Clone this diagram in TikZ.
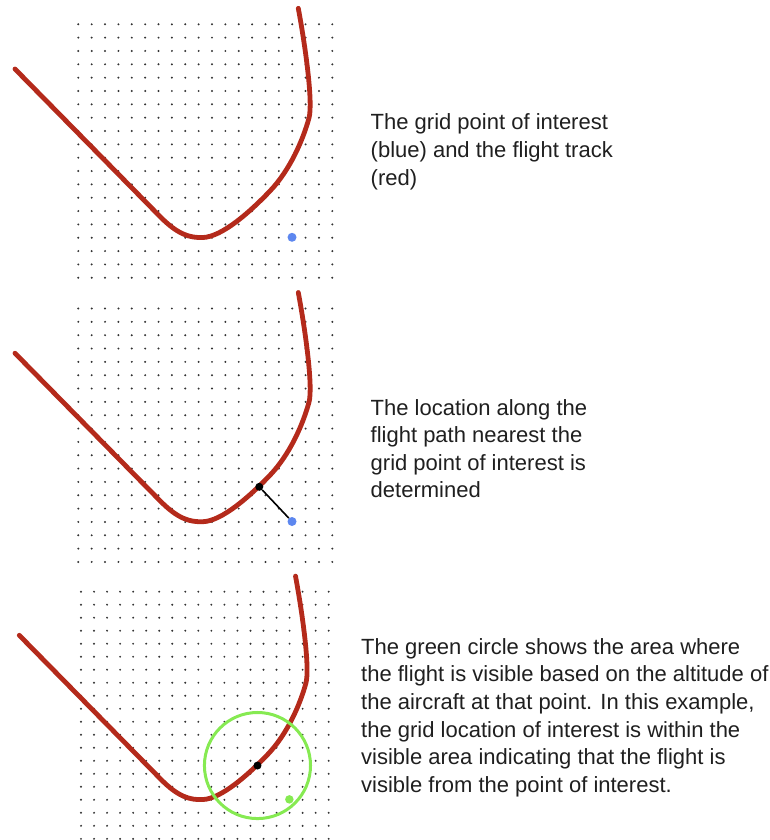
\documentclass[tikz,border=0pt]{standalone}
\usepackage{fontspec}
\setmainfont{Liberation Sans}
\usetikzlibrary{positioning}
\definecolor{TR}{HTML}{B42A1B}
\definecolor{GP}{HTML}{5D87EF}
\definecolor{VG}{HTML}{86EA52}
\definecolor{DT}{HTML}{333333}

%% dotted background grid, 20 x 20
\newcommand{\dotgrid}{%
  \foreach \ii in {0,...,19}{
    \foreach \jj in {0,...,19}{
      \fill[DT] (78.3+\ii*13.37, 24.3+\jj*13.34) circle (1.1);
    }
  }}
%% the flight track
\newcommand{\flighttrack}{%
  \draw[TR, line width=4.8pt, line cap=round, line join=round]
    (15,69) -- (160,216.5)
    .. controls (178,234.8) and (190,238) .. (203,237.5)
    .. controls (222,236.8) and (250,212) .. (270,191)
    .. controls (290,170) and (303,140) .. (309,118)
    .. controls (313,103) and (306,50) .. (298.3,8.3);}

\begin{document}
\begin{tikzpicture}[x=1pt, y=-1pt,
    txt/.style={font=\fontsize{22}{27.6}\selectfont, align=left,
                inner sep=0pt, text=black!88, anchor=base west},
    gpdot/.style={circle, fill=GP, inner sep=0pt, minimum size=9pt},
    neardot/.style={circle, fill=black, inner sep=0pt, minimum size=8pt},
    visdot/.style={circle, fill=VG, inner sep=0pt, minimum size=8.5pt}]
  \useasboundingbox (0,0) rectangle (770,840);

  %% panel 1: grid point and track
  \begin{scope}
    \dotgrid
    \flighttrack
    \node[gpdot] (gp1) at (292,237.3) {};
  \end{scope}
  %% base anchor sits on the last line
  \node[txt] (cap1) at (370.5,185.2)
    {The grid point of interest\\(blue) and the flight track\\(red)};

  %% panel 2: nearest location on the track
  \begin{scope}[shift={(0,284.2)}]
    \dotgrid
    \flighttrack
    \node[gpdot] (gp2) at (292,237.3) {};
    \node[neardot] (near2) at (259.3,202.6) {};
    \draw[black, line width=1.6pt] (near2) -- (gp2);
  \end{scope}
  \node[txt] (cap2) at (370.5,497.8)
    {The location along the\\flight path nearest the\\grid point of interest is\\determined};

  %% panel 3: visible area
  \begin{scope}[shift={(4.66,568)}, scale=0.975]
    \dotgrid
    \flighttrack
    \node[visdot] (gp3) at (292,237.3) {};
    \node[neardot] (near3) at (259.3,202.6) {};
    \draw[VG, line width=3pt] (near3.center) circle (54.4);
  \end{scope}
  \node[txt] (cap3) at (361,792.3)
    {The green circle shows the area where\\the flight is visible based on the altitude of\\the aircraft at that point. In this example,\\the grid location of interest is within the\\visible area indicating that the flight is\\visible from the point of interest.};
\end{tikzpicture}
\end{document}
